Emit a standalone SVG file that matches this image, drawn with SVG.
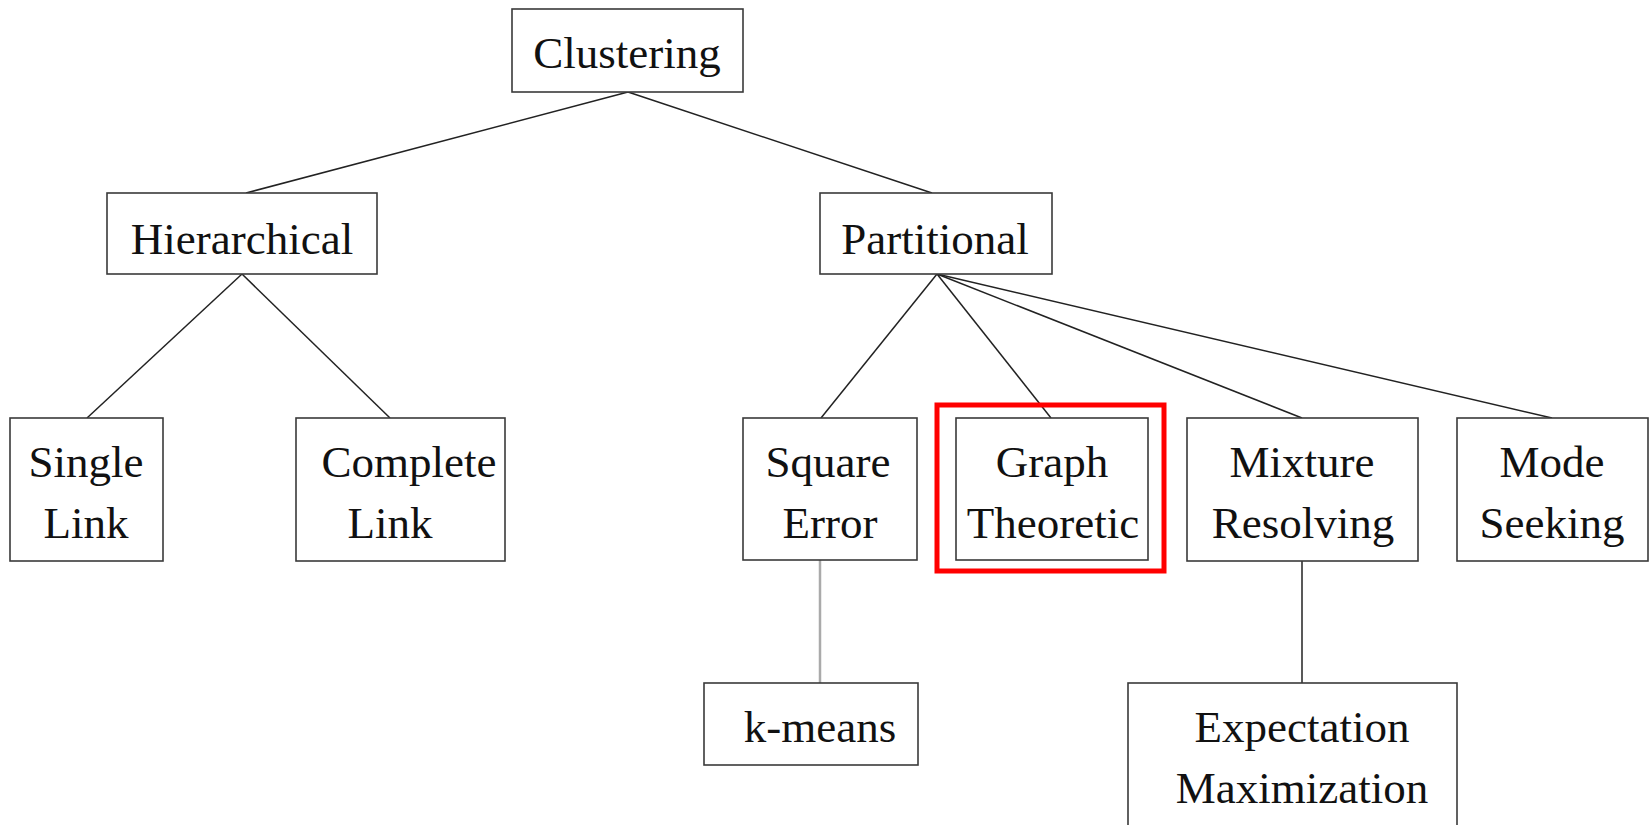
<svg xmlns="http://www.w3.org/2000/svg" width="1650" height="825" viewBox="0 0 1650 825">
<style>
.box{fill:#fff;stroke:#3a3a3a;stroke-width:1.6}
.t{font-family:"Liberation Serif","Times New Roman",serif;font-size:45px;fill:#111;text-anchor:middle}
.c{stroke:#222;stroke-width:1.5;fill:none}
.cg{stroke:#aaa;stroke-width:2.5;fill:none}
</style>
<rect width="1650" height="825" fill="#fff"/>
<g id="connectors">
<line class="c" x1="628" y1="92" x2="246" y2="193"/>
<line class="c" x1="628" y1="92" x2="932" y2="193"/>
<line class="c" x1="242" y1="274" x2="87" y2="418"/>
<line class="c" x1="242" y1="274" x2="390" y2="418"/>
<line class="c" x1="937" y1="274" x2="821" y2="418"/>
<line class="c" x1="937" y1="274" x2="1051" y2="418"/>
<line class="c" x1="937" y1="274" x2="1302" y2="418"/>
<line class="c" x1="937" y1="274" x2="1552" y2="418"/>
<line class="cg" x1="820" y1="560" x2="820" y2="683"/>
<line class="c" x1="1302" y1="561" x2="1302" y2="683"/>
</g>
<g id="clustering"><rect class="box" x="512" y="9" width="231" height="83"/><text class="t" x="627" y="68">Clustering</text></g>
<g id="hierarchical"><rect class="box" x="107" y="193" width="270" height="81"/><text class="t" x="242" y="254">Hierarchical</text></g>
<g id="partitional"><rect class="box" x="820" y="193" width="232" height="81"/><text class="t" x="935" y="254">Partitional</text></g>
<g id="single-link"><rect class="box" x="10" y="418" width="153" height="143"/><text class="t" x="86" y="477">Single</text><text class="t" x="86" y="538">Link</text></g>
<g id="complete-link"><rect class="box" x="296" y="418" width="209" height="143"/><text class="t" x="409" y="477">Complete</text><text class="t" x="390" y="538">Link</text></g>
<g id="square-error"><rect class="box" x="743" y="418" width="174" height="142"/><text class="t" x="828" y="477">Square</text><text class="t" x="830" y="538">Error</text></g>
<g id="graph-theoretic"><rect class="box" x="956" y="418" width="192" height="142"/><text class="t" x="1052" y="477">Graph</text><text class="t" x="1053" y="538">Theoretic</text><rect x="937" y="405" width="227" height="166" fill="none" stroke="#f00" stroke-width="5"/></g>
<g id="mixture-resolving"><rect class="box" x="1187" y="418" width="231" height="143"/><text class="t" x="1302" y="477">Mixture</text><text class="t" x="1303" y="538">Resolving</text></g>
<g id="mode-seeking"><rect class="box" x="1457" y="418" width="191" height="143"/><text class="t" x="1552" y="477">Mode</text><text class="t" x="1552" y="538">Seeking</text></g>
<g id="k-means"><rect class="box" x="704" y="683" width="214" height="82"/><text class="t" x="820" y="742">k-means</text></g>
<g id="expectation-maximization"><rect class="box" x="1128" y="683" width="329" height="150"/><text class="t" x="1302" y="742">Expectation</text><text class="t" x="1302" y="803">Maximization</text></g>
</svg>
